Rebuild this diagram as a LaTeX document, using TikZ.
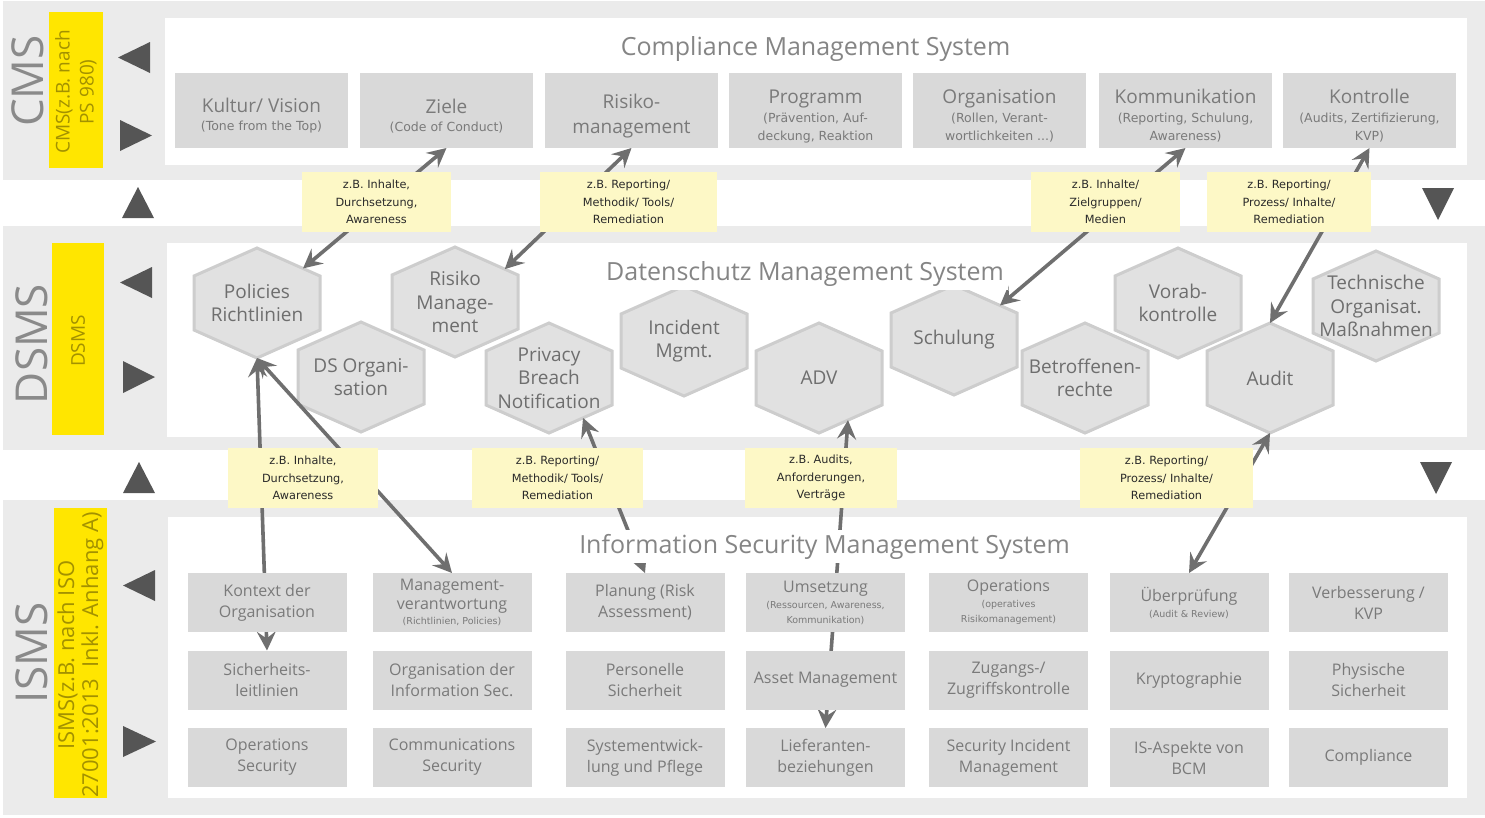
\documentclass[tikz,border=0pt]{standalone}
\usepackage{fontspec}
\setmainfont{Open Sans}
\newfontfamily\notefont{DejaVu Sans}
\usetikzlibrary{arrows.meta,calc}
\pgfdeclarelayer{back}
\pgfdeclarelayer{hexes}
\pgfdeclarelayer{lines}
\pgfsetlayers{back,hexes,lines,main}

\definecolor{band}{HTML}{EBEBEB}
\definecolor{boxgray}{HTML}{D9D9D9}
\definecolor{hexfill}{HTML}{E1E1E1}
\definecolor{hexline}{HTML}{CDCDCD}
\definecolor{eyyellow}{HTML}{FFE600}
\definecolor{notefill}{HTML}{FDF8C6}
\definecolor{notetxt}{HTML}{2A2A2A}
\definecolor{txt}{HTML}{7A7A7A}
\definecolor{hextxt}{HTML}{6E6E6E}
\definecolor{titletxt}{HTML}{858585}
\definecolor{bigtxt}{HTML}{8A8A8A}
\definecolor{olive}{HTML}{A39100}
\definecolor{conncol}{HTML}{6F6F6F}
\definecolor{tricol}{HTML}{555555}

% fixed baseline distance regardless of line contents
\newcommand\fixedlines{\lineskiplimit=-50pt\relax\lineskip=0pt\relax}
% tall first line, moves the text of a box a little downwards
\newcommand\lowered{\rule{0pt}{25pt}}
% small print inside the boxes
\newcommand\smalltxt{\notefont\fontsize{12.5}{15}\selectfont}
\newcommand\tinytxt{\notefont\fontsize{9.5}{12}\selectfont}

% hexagon with pointed top and bottom: name, x, y, text
\newcommand\hexagonnode[4]{%
  \coordinate (#1-n) at (#2,#3-55);
  \coordinate (#1-ne) at (#2+63,#3-27);
  \coordinate (#1-se) at (#2+63,#3+27);
  \coordinate (#1-s) at (#2,#3+55);
  \coordinate (#1-sw) at (#2-63,#3+27);
  \coordinate (#1-nw) at (#2-63,#3-27);
  \draw[hexshape] (#1-n) -- (#1-ne) -- (#1-se) -- (#1-s) -- (#1-sw) -- (#1-nw) -- cycle;
  \node[hextext] (#1) at (#2,#3) {#4};
}

\tikzset{
  every node/.style={inner sep=0pt, outer sep=0pt},
  cmsbox/.style={fill=boxgray, minimum width=173pt, minimum height=75pt, text=txt, align=center,
    font=\fontsize{19}{20}\selectfont\fixedlines},
  ismsbox/.style={fill=boxgray, minimum width=159pt, minimum height=59pt, text=txt, align=center,
    font=\fontsize{16}{21}\selectfont\fixedlines},
  hexshape/.style={fill=hexfill, draw=hexline, line width=3pt},
  hextext/.style={text=hextxt, align=center, font=\fontsize{19}{23.5}\selectfont\fixedlines},
  note/.style={fill=notefill, text=notetxt, align=center, minimum height=60pt,
    font=\notefont\fontsize{11.3}{17.5}\selectfont\fixedlines},
  systitle/.style={fill=white, text=titletxt, anchor=base, inner sep=4pt, font=\fontsize{25}{30}\selectfont},
  bigtag/.style={rotate=90, text=bigtxt, font=\fontsize{44}{50}\selectfont},
  bartext/.style={rotate=90, text=olive, align=center},
  conn/.style={draw=conncol, line width=3.6pt,
    {Stealth[length=19pt,width=19pt,inset=7pt]}-{Stealth[length=19pt,width=19pt,inset=7pt]}},
  tri/.style={fill=tricol},
}

\begin{document}
\begin{tikzpicture}[x=1pt,y=-1pt]
\useasboundingbox (0,0) rectangle (1485,817);

\begin{pgfonlayer}{back}
  % grey bands and white panels
  \fill[band] (3,1) rectangle (1485,180);
  \fill[band] (3,226) rectangle (1485,450);
  \fill[band] (3,500) rectangle (1485,815);
  \fill[white] (165,18) rectangle (1467,165);
  \fill[white] (167,243) rectangle (1467,437);
  \fill[white] (168,517) rectangle (1467,798);
  % yellow side bars
  \fill[eyyellow] (49,12) rectangle (103,168);
  \fill[eyyellow] (52,243) rectangle (104,435);
  \fill[eyyellow] (54,508) rectangle (107,798);
\end{pgfonlayer}

% side tags
\node[bigtag] (tagcms) at (28,81) {CMS};
\node[bigtag] (tagdsms) at (32,344) {DSMS};
\node[bigtag] (tagisms) at (32,653) {ISMS};
\node[bartext, font=\fontsize{19}{24}\selectfont] (barcms) at (76,92) {CMS(z.B. nach\\PS 980)};
\node[bartext, font=\fontsize{19}{20}\selectfont] (bardsms) at (78,341) {DSMS};
\node[bartext, font=\fontsize{22}{24}\selectfont] (barisms) at (80.5,655) {ISMS(z.B. nach ISO\\27001:2013\ \ Inkl. Anhang A)};

% direction triangles
\fill[tri] (150,42) -- (150,73) -- (118,57.5) -- cycle;
\fill[tri] (120,120) -- (120,151) -- (152,135.5) -- cycle;
\fill[tri] (122,218) -- (154,218) -- (138,187) -- cycle;
\fill[tri] (152,267) -- (152,298) -- (120,282.5) -- cycle;
\fill[tri] (123,361) -- (123,393) -- (155,377) -- cycle;
\fill[tri] (123,493) -- (155,493) -- (139,462) -- cycle;
\fill[tri] (155,570) -- (155,601) -- (123,585.5) -- cycle;
\fill[tri] (123,726) -- (123,757) -- (156,741.5) -- cycle;
\fill[tri] (1422,188) -- (1454,188) -- (1438,220) -- cycle;
\fill[tri] (1420,462) -- (1452,462) -- (1436,494) -- cycle;

% Compliance Management System
\node[cmsbox] (kultur) at (261.5,110.5) {\lowered Kultur/ Vision\\[-2pt]{\smalltxt (Tone from the Top)}};
\node[cmsbox] (ziele) at (446.5,110.5) {\lowered Ziele\\[-2pt]{\smalltxt (Code of Conduct)}};
\node[cmsbox] (risiko) at (631.5,110.5) {\lowered Risiko-\\[5pt]management};
\node[cmsbox] (programm) at (815.5,110.5) {\lowered Programm\\[-1pt]{\smalltxt (Prävention, Auf-}\\[-2pt]{\smalltxt deckung, Reaktion}};
\node[cmsbox] (organisation) at (999.5,110.5) {\lowered Organisation\\[-1pt]{\smalltxt (Rollen, Verant-}\\[-2pt]{\smalltxt wortlichkeiten ...)}};
\node[cmsbox] (komm) at (1185.5,110.5) {\lowered Kommunikation\\[-1pt]{\smalltxt (Reporting, Schulung,}\\[-2pt]{\smalltxt Awareness)}};
\node[cmsbox] (kontr) at (1369.5,110.5) {\lowered Kontrolle\\[-1pt]{\smalltxt (Audits, Zertifizierung,}\\[-2pt]{\smalltxt KVP)}};

% Datenschutz Management System
\begin{pgfonlayer}{hexes}
  \hexagonnode{pol}{257}{303}{Policies\\Richtlinien}
  \hexagonnode{rskm}{455}{302}{Risiko\\Manage-\\ment}
  \hexagonnode{dso}{361}{377}{DS Organi-\\sation}
  \hexagonnode{pbn}{549}{378}{Privacy\\Breach\\Notification}
  \hexagonnode{inc}{684}{341}{Incident\\Mgmt.}
  \hexagonnode{adv}{819}{378}{ADV}
  \hexagonnode{sch}{954}{340}{Schulung}
  \hexagonnode{bet}{1085}{378}{Betroffenen-\\rechte}
  \hexagonnode{vor}{1178}{303}{Vorab-\\kontrolle}
  \hexagonnode{aud}{1270}{378}{Audit}
  \hexagonnode{tom}{1376}{306}{Technische\\Organisat.\\Maßnahmen}
\end{pgfonlayer}

% Information Security Management System
\node[ismsbox] (kon) at (267,602.5) {Kontext der\\Organisation};
\node[ismsbox] (mgmt) at (452,602.5) {Management-\\[-2pt]verantwortung\\[-6pt]{\tinytxt (Richtlinien, Policies)}};
\node[ismsbox] (plan) at (645,602.5) {Planung (Risk\\Assessment)};
\node[ismsbox] (ums) at (825.5,602.5) {Umsetzung\\[-5pt]{\tinytxt (Ressourcen, Awareness,}\\[-6pt]{\tinytxt Kommunikation)}};
\node[ismsbox] (ops) at (1008.5,602.5) {Operations\\[-5pt]{\tinytxt (operatives}\\[-6pt]{\tinytxt Risikomanagement)}};
\node[ismsbox] (ueber) at (1189,602.5) {Überprüfung\\[-5pt]{\tinytxt (Audit \& Review)}};
\node[ismsbox] (verb) at (1368.5,602.5) {Verbesserung /\\KVP};

\node[ismsbox] (sich) at (267,680) {Sicherheits-\\leitlinien};
\node[ismsbox] (orgis) at (452,680) {Organisation der\\Information Sec.};
\node[ismsbox] (pers) at (645,680) {Personelle\\Sicherheit};
\node[ismsbox] (asset) at (825.5,680) {Asset Management};
\node[ismsbox] (zug) at (1008.5,680) {Zugangs-/\\Zugriffskontrolle};
\node[ismsbox] (kryp) at (1189,680) {Kryptographie};
\node[ismsbox] (phys) at (1368.5,680) {Physische\\Sicherheit};

\node[ismsbox] (opsec) at (267,757.5) {Operations\\Security};
\node[ismsbox] (comsec) at (452,757.5) {Communications\\Security};
\node[ismsbox] (sysent) at (645,757.5) {Systementwick-\\lung und Pflege};
\node[ismsbox] (lief) at (825.5,757.5) {Lieferanten-\\beziehungen};
\node[ismsbox] (secinc) at (1008.5,757.5) {Security Incident\\Management};
\node[ismsbox] (isbcm) at (1189,757.5) {IS-Aspekte von\\BCM};
\node[ismsbox] (compl) at (1368.5,757.5) {Compliance};

% connectors between the three systems
\begin{pgfonlayer}{lines}
  \draw[conn] ($(pol-n)!0.73!(pol-ne)$) -- (ziele.south);
  \draw[conn] ($(rskm-n)!0.79!(rskm-ne)$) -- (risiko.south);
  \draw[conn] ($(sch-n)!0.73!(sch-ne)$) -- (komm.south);
  \draw[conn] (aud-n) -- (kontr.south);
  \draw[conn] (pol-s) -- (sich.north);
  \draw[conn] (pol-s) -- (mgmt.north);
  \draw[conn] ($(pbn-se)!0.46!(pbn-s)$) -- (plan.north);
  \draw[conn] ($(adv-se)!0.54!(adv-s)$) -- (lief.north);
  \draw[conn] (aud-s) -- (ueber.north);
\end{pgfonlayer}

% system titles
\node[systitle] (cmstitle) at (815.5,55) {Compliance Management System};
\node[systitle] (dsmstitle) at (805,280) {Datenschutz Management System};
\node[systitle] (ismstitle) at (824.5,553) {Information Security Management System};

% interface notes
\node[note, minimum width=149pt] (n1) at (376.5,202) {z.B. Inhalte,\\Durchsetzung,\\Awareness};
\node[note, minimum width=177pt] (n2) at (628.5,202) {z.B. Reporting/\\Methodik/ Tools/\\Remediation};
\node[note, minimum width=149pt] (n3) at (1105.5,202) {z.B. Inhalte/\\Zielgruppen/\\Medien};
\node[note, minimum width=164pt] (n4) at (1289,202) {z.B. Reporting/\\Prozess/ Inhalte/\\Remediation};
\node[note, minimum width=150pt] (n5) at (303,478) {z.B. Inhalte,\\Durchsetzung,\\Awareness};
\node[note, minimum width=171pt] (n6) at (557.5,478) {z.B. Reporting/\\Methodik/ Tools/\\Remediation};
\node[note, minimum width=152pt] (n7) at (821,478) {z.B. Audits,\\Anforderungen,\\Verträge};
\node[note, minimum width=173pt] (n8) at (1166.5,478) {z.B. Reporting/\\Prozess/ Inhalte/\\Remediation};
\end{tikzpicture}
\end{document}
